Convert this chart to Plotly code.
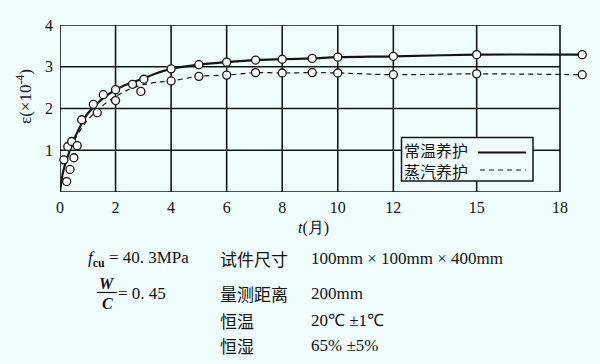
import plotly.graph_objects as go

# ---------------- data ----------------
# measured points, normal-temperature curing (常温养护)
t_norm = [0.14, 0.28, 0.42, 0.62, 0.78, 1.2, 1.56, 2.0, 2.61, 3.02, 4.0, 5.0, 6.0, 7.04, 8.0, 9.08, 10.0, 12.0, 15.0, 18.8]
e_norm = [0.77, 1.09, 1.21, 1.11, 1.73, 2.1, 2.33, 2.45, 2.58, 2.70, 2.95, 3.05, 3.11, 3.16, 3.18, 3.20, 3.23, 3.25, 3.29, 3.29]
# measured points, steam curing (蒸汽养护)
t_steam = [0.24, 0.36, 0.5, 1.34, 2.0, 2.91, 4.0, 5.0, 6.0, 7.04, 8.0, 9.08, 10.0, 12.0, 15.0, 18.8]
e_steam = [0.25, 0.54, 0.82, 1.90, 2.19, 2.41, 2.66, 2.77, 2.80, 2.86, 2.85, 2.86, 2.85, 2.81, 2.83, 2.81]
# drawn curves
t_curve = [0, 0.1, 0.25, 0.5, 0.75, 1.0, 1.5, 2.0, 2.5, 3.0, 3.5, 4.0, 5.0, 6.0, 7.04, 8.0, 9.08, 10.0, 12.0, 15.0, 18.8]
c_norm = [0, 0.45, 0.80, 1.25, 1.60, 1.88, 2.22, 2.45, 2.60, 2.72, 2.85, 2.95, 3.05, 3.11, 3.16, 3.18, 3.20, 3.23, 3.25, 3.29, 3.29]
c_steam = [0, 0.45, 0.80, 1.22, 1.50, 1.73, 2.05, 2.29, 2.46, 2.57, 2.63, 2.66, 2.77, 2.80, 2.86, 2.85, 2.86, 2.85, 2.81, 2.83, 2.81]

x_ticks = [0, 2, 4, 6, 8, 10, 12, 15, 18]
y_ticks = [1, 2, 3, 4]
legend_names = ["常温养护", "蒸汽养护"]

# ---------------- layout helpers ----------------
W, H = 600, 364
L, R, T, B = 60, 0, 25, 172
PW, PH = W - L - R, H - T - B
XMAX = 19.44
BG = "#EFFDFD"
INK = "#141414"
SERIF = "Liberation Serif, Times New Roman, serif"
CJK = "Noto Sans CJK SC"


def px(x):
    return (x - L) / PW


def py(y):
    return (H - B - y) / PH


fig = go.Figure()

fig.add_trace(go.Scatter(x=t_curve, y=c_norm, mode="lines", line=dict(color=INK, width=2.2, shape="spline", smoothing=0.9),
                         showlegend=False, hoverinfo="skip"))
fig.add_trace(go.Scatter(x=t_curve, y=c_steam, mode="lines", line=dict(color=INK, width=1.2, dash="5px,4px", shape="spline", smoothing=0.9),
                         showlegend=False, hoverinfo="skip"))
marker = dict(symbol="circle", size=8, color="white", line=dict(color=INK, width=1.3))
fig.add_trace(go.Scatter(x=t_norm, y=e_norm, mode="markers", marker=marker, showlegend=False, cliponaxis=False))
fig.add_trace(go.Scatter(x=t_steam, y=e_steam, mode="markers", marker=marker, showlegend=False, cliponaxis=False))

shapes = []
# grid and frame (x from 0 to 18)
for xv in x_ticks:
    shapes.append(dict(type="line", xref="x", yref="y", x0=xv, x1=xv, y0=0, y1=4, layer="below",
                       line=dict(color=INK, width=1.6)))
for yv in [0] + y_ticks:
    shapes.append(dict(type="line", xref="x", yref="y", x0=0, x1=18, y0=yv, y1=yv, layer="below",
                       line=dict(color=INK, width=1.6)))
# legend box
shapes.append(dict(type="rect", xref="paper", yref="paper", x0=px(401.5), x1=px(533), y0=py(181), y1=py(137.5),
                   fillcolor=BG, line=dict(color=INK, width=1.5), layer="above"))
shapes.append(dict(type="line", xref="paper", yref="paper", x0=px(478), x1=px(526), y0=py(152.5), y1=py(152.5),
                   line=dict(color=INK, width=2.2), layer="above"))
shapes.append(dict(type="line", xref="paper", yref="paper", x0=px(480), x1=px(526), y0=py(170), y1=py(170),
                   line=dict(color=INK, width=1.2, dash="5px,4px"), layer="above"))
# W/C fraction bar
shapes.append(dict(type="line", xref="paper", yref="paper", x0=px(97), x1=px(117), y0=py(292.5), y1=py(292.5),
                   line=dict(color=INK, width=1.2), layer="above"))

ann = []


def text(s, x, y, font, size=17, xanchor="left", angle=0, align="left"):
    ann.append(dict(text=s, x=px(x), y=py(y), xref="paper", yref="paper", showarrow=False,
                    xanchor=xanchor, yanchor="middle", textangle=angle, borderpad=0, align=align,
                    font=dict(family=font, size=size, color=INK)))


text("<br>".join(legend_names), 403, 160.5, CJK, 16)
text("ε(×10<sup>-4</sup>)", 24, 97, SERIF, 17, xanchor="center", angle=-90)
text("<i>t</i>(月)", 297, 228, SERIF, 16)
text("<i>f</i><sub><b>cu</b></sub> = 40. 3MPa", 87, 259, SERIF, 17)
text("试件尺寸", 219, 258, CJK, 17)
text("100mm × 100mm × 400mm", 310, 258, SERIF, 17)
text("<i><b>W</b></i>", 107, 283, SERIF, 16, xanchor="center")
text("<i><b>C</b></i>", 107, 303, SERIF, 16, xanchor="center")
text("= 0. 45", 117, 293, SERIF, 17)
text("量测距离", 219, 293, CJK, 17)
text("200mm", 310, 293, SERIF, 17)
text("恒温", 219, 320, CJK, 17)
text("20℃ ±1℃", 310, 320, SERIF, 17)
text("恒湿", 219, 345, CJK, 17)
text("65% ±5%", 310, 345, SERIF, 17)

fig.update_layout(
    width=W, height=H, margin=dict(l=L, r=R, t=T, b=B, pad=0),
    paper_bgcolor=BG, plot_bgcolor=BG,
    shapes=shapes, annotations=ann,
    xaxis=dict(range=[0, XMAX], tickvals=x_ticks, ticktext=[str(v) for v in x_ticks], showgrid=False, zeroline=False,
               showline=False, ticks="", ticklabelstandoff=4, tickfont=dict(family=SERIF, size=16, color=INK)),
    yaxis=dict(range=[0, 4], tickvals=y_ticks, ticktext=[str(v) for v in y_ticks], showgrid=False, zeroline=False,
               showline=False, ticks="", ticklabelstandoff=6, tickfont=dict(family=SERIF, size=16, color=INK)),
)

fig.write_html("out.html")
